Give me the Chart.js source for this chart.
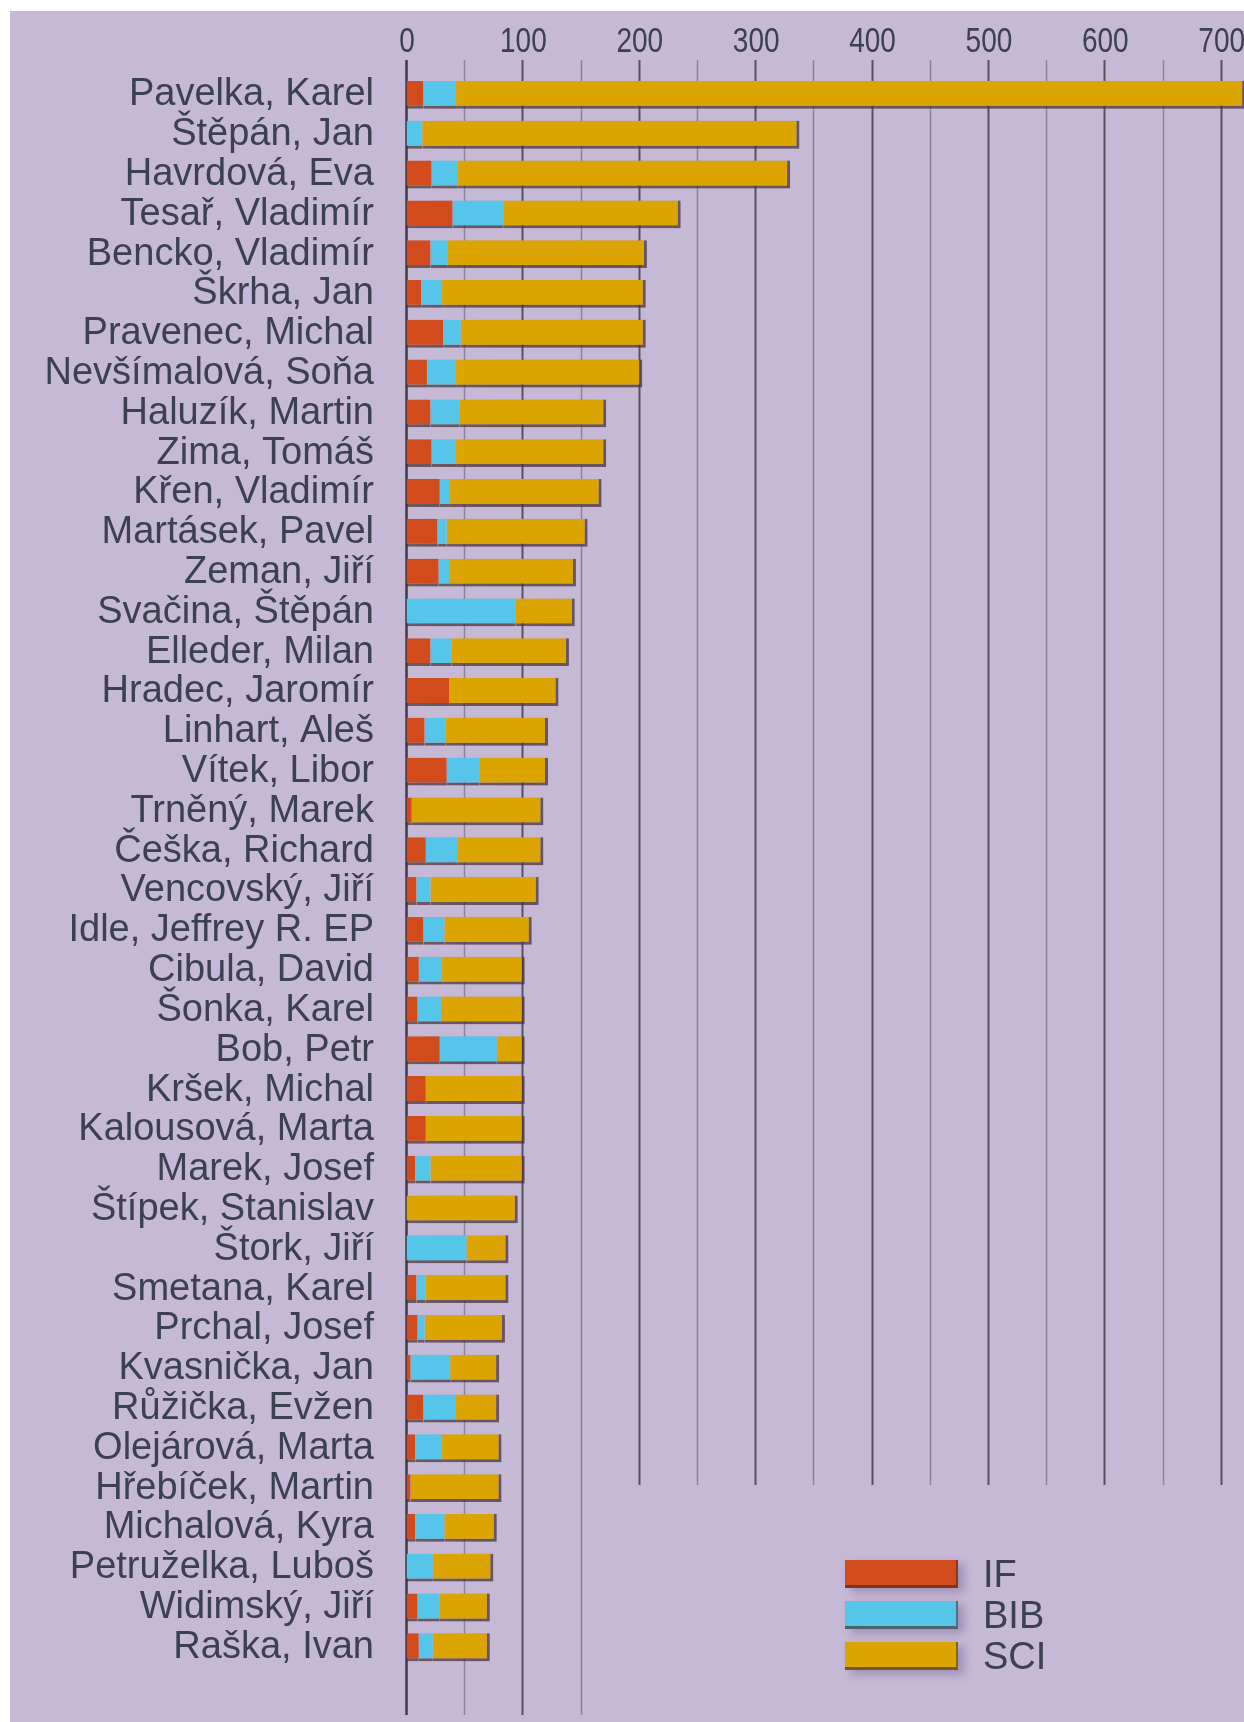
<!DOCTYPE html>
<html>
<head>
<meta charset="utf-8">
<script src="https://cdn.jsdelivr.net/npm/chart.js@4.4.1/dist/chart.umd.min.js"></script>
<style>
  html, body { margin: 0; padding: 0; background: #ffffff; }
  #wrap { position: relative; width: 1244px; height: 1722px; overflow: hidden; }
  #chart { position: absolute; left: 0; top: 0; }
  #legend { position: absolute; left: 845px; top: 1560px; font-family: 'Liberation Sans', Arial, sans-serif; font-size: 38px; color: #3b4150; }
  .lrow { position: relative; height: 41px; }
  .sw { position: absolute; left: 0; top: 0; width: 113px; height: 28px; box-sizing: border-box; border-bottom: 3px solid rgba(70,45,40,0.65); border-right: 2px solid rgba(70,45,40,0.55); box-shadow: 6px 4px 10px rgba(80,60,120,0.35); }
  .lt { position: absolute; left: 138px; top: -6px; line-height: 40px; }
</style>
</head>
<body>
<div id="wrap">
  <canvas id="chart" width="1244" height="1722"></canvas>
  <div id="legend"></div>
</div>
<script>
const names = ["Pavelka, Karel","Štěpán, Jan","Havrdová, Eva","Tesař, Vladimír","Bencko, Vladimír","Škrha, Jan","Pravenec, Michal","Nevšímalová, Soňa","Haluzík, Martin","Zima, Tomáš","Křen, Vladimír","Martásek, Pavel","Zeman, Jiří","Svačina, Štěpán","Elleder, Milan","Hradec, Jaromír","Linhart, Aleš","Vítek, Libor","Trněný, Marek","Češka, Richard","Vencovský, Jiří","Idle, Jeffrey R. EP","Cibula, David","Šonka, Karel","Bob, Petr","Kršek, Michal","Kalousová, Marta","Marek, Josef","Štípek, Stanislav","Štork, Jiří","Smetana, Karel","Prchal, Josef","Kvasnička, Jan","Růžička, Evžen","Olejárová, Marta","Hřebíček, Martin","Michalová, Kyra","Petruželka, Luboš","Widimský, Jiří","Raška, Ivan"];
const valuesIF  = [15,0,22,40,21,13,32,18,21,22,29,27,28,0,21,37,16,35,5,17,9,15,11,10,29,17,17,8,0,0,9,10,4,15,8,4,8,0,10,11];
const valuesBIB = [28,14,22,44,15,18,15,25,25,21,8,8,9,94,18,0,18,28,0,27,12,18,20,20,49,0,0,13,0,52,8,6,34,28,23,0,25,23,19,12];
const valuesSCI = [678,324,286,152,171,175,159,160,126,129,131,121,109,51,101,94,88,59,113,74,93,75,71,72,24,85,85,81,96,36,71,69,42,37,51,78,45,52,43,49];
const seriesNames = ["IF","BIB","SCI"];
const xTickValues = [0,100,200,300,400,500,600,700];

const colIF = '#d24b1c', colBIB = '#55c6e9', colSCI = '#dca400';
const edge = 'rgba(75,50,45,0.7)';
const bg = '#c6b9d5';
const textCol = '#3b4150';

const bgPlugin = {
  id: 'bgPlugin',
  beforeDraw(chart) {
    const ctx = chart.ctx;
    ctx.save();
    ctx.fillStyle = bg;
    ctx.fillRect(10, 11, chart.width - 10, chart.height - 11);
    ctx.restore();
  }
};

const gridPlugin = {
  id: 'gridPlugin',
  beforeDatasetsDraw(chart) {
    const ctx = chart.ctx;
    const xs = chart.scales.x;
    ctx.save();
    xs.ticks.forEach(t => {
      const v = t.value;
      const px = Math.round(xs.getPixelForValue(v)) + 0.5;
      const major = v % 100 === 0;
      ctx.beginPath();
      ctx.strokeStyle = v === 0 ? '#3e3a48' : (major ? '#55525f' : '#8c8499');
      ctx.lineWidth = v === 0 ? 2.5 : (major ? 2 : 1.5);
      const yEnd = v <= 150 ? 1715 : 1485;
      ctx.moveTo(px, 60);
      ctx.lineTo(px, yEnd);
      ctx.stroke();
    });
    ctx.restore();
  },
  afterDraw(chart) {
    // narrow tick labels of the top value axis, placed by the scale
    const ctx = chart.ctx;
    const xs = chart.scales.x;
    ctx.save();
    ctx.fillStyle = textCol;
    ctx.font = "35px 'Liberation Sans', Arial, sans-serif";
    ctx.textAlign = 'center';
    ctx.textBaseline = 'middle';
    xTickValues.forEach(v => {
      const px = xs.getPixelForValue(v);
      ctx.save();
      ctx.translate(px + 1, 42);
      ctx.scale(0.8, 1);
      ctx.fillText(String(v), 0, 0);
      ctx.restore();
    });
    ctx.restore();
  }
};

const shadowPlugin = {
  id: 'shadowPlugin',
  beforeDatasetDraw(chart) {
    const ctx = chart.ctx;
    ctx.save();
    ctx.shadowColor = 'rgba(80,60,125,0.30)';
    ctx.shadowBlur = 20;
    ctx.shadowOffsetX = 14;
    ctx.shadowOffsetY = 3;
  },
  afterDatasetDraw(chart) {
    chart.ctx.restore();
  }
};

const chart = new Chart(document.getElementById('chart'), {
  type: 'bar',
  data: {
    labels: names,
    datasets: [
      { label: seriesNames[0], data: valuesIF, backgroundColor: colIF, borderColor: edge, borderWidth: {top:0,left:0,right:0,bottom:3}, borderSkipped: false },
      { label: seriesNames[1], data: valuesBIB, backgroundColor: colBIB, borderColor: edge, borderWidth: {top:0,left:0,right:0,bottom:3}, borderSkipped: false },
      { label: seriesNames[2], data: valuesSCI, backgroundColor: colSCI, borderColor: edge, borderWidth: {top:0,left:0,right:3,bottom:3}, borderSkipped: false }
    ]
  },
  options: {
    indexAxis: 'y',
    responsive: false,
    animation: false,
    devicePixelRatio: 1,
    layout: { padding: { top: 0, left: 0, right: 0, bottom: 20.7 } },
    datasets: { bar: { barPercentage: 0.7, categoryPercentage: 1.0 } },
    plugins: { legend: { display: false }, tooltip: { enabled: false } },
    scales: {
      x: {
        type: 'linear',
        position: 'top',
        stacked: true,
        min: 0,
        max: 720,
        grid: { color: 'rgba(0,0,0,0)', drawTicks: false },
        border: { display: false },
        ticks: {
          display: false,
          stepSize: 50,
          includeBounds: false,
          autoSkip: false
        },
        afterFit(s) { s.height = 75; s.paddingRight = 0; s.paddingLeft = 0; }
      },
      y: {
        type: 'category',
        stacked: true,
        grid: { display: false, drawTicks: false },
        border: { display: false },
        ticks: {
          autoSkip: false,
          padding: 32,
          color: textCol,
          font: { family: "'Liberation Sans', Arial, sans-serif", size: 38 }
        },
        afterFit(s) { s.width = 406; }
      }
    }
  },
  plugins: [bgPlugin, gridPlugin, shadowPlugin]
});

// legend built from the chart's datasets
const leg = document.getElementById('legend');
chart.data.datasets.forEach(ds => {
  const row = document.createElement('div');
  row.className = 'lrow';
  const sw = document.createElement('div');
  sw.className = 'sw';
  sw.style.background = ds.backgroundColor;
  const t = document.createElement('div');
  t.className = 'lt';
  t.textContent = ds.label;
  row.appendChild(sw); row.appendChild(t);
  leg.appendChild(row);
});
</script>
</body>
</html>
